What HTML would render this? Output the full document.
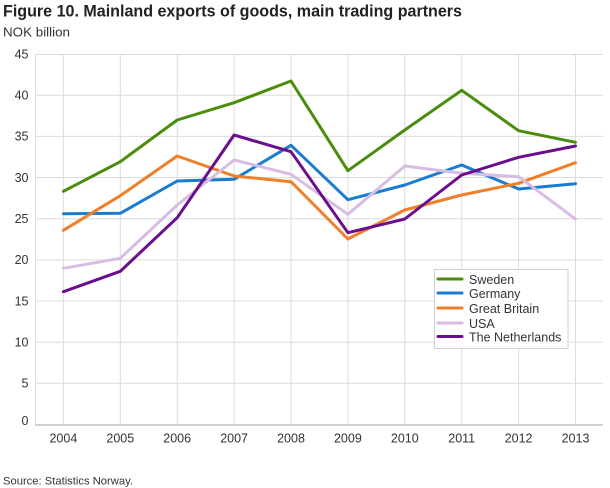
<!DOCTYPE html>
<html><head><meta charset="utf-8"><style>
html,body{margin:0;padding:0;background:#fff;}
svg{display:block;font-family:"Liberation Sans",sans-serif;}
</style></head><body>
<svg width="610" height="488" viewBox="0 0 610 488" xmlns="http://www.w3.org/2000/svg">
<rect width="610" height="488" fill="#fff"/>
<text x="3" y="16.5" font-size="16.5" font-weight="bold" fill="#222" textLength="459" lengthAdjust="spacingAndGlyphs">Figure 10. Mainland exports of goods, main trading partners</text>
<text x="3" y="36.5" font-size="13" fill="#333" textLength="67" lengthAdjust="spacingAndGlyphs">NOK billion</text>
<g stroke="#dcdcdc" stroke-width="1" fill="none">
<line x1="35" y1="54.5" x2="603" y2="54.5"/>
<line x1="35" y1="95.2" x2="603" y2="95.2"/>
<line x1="35" y1="136.4" x2="603" y2="136.4"/>
<line x1="35" y1="177.5" x2="603" y2="177.5"/>
<line x1="35" y1="218.7" x2="603" y2="218.7"/>
<line x1="35" y1="259.9" x2="603" y2="259.9"/>
<line x1="35" y1="301.0" x2="603" y2="301.0"/>
<line x1="35" y1="342.2" x2="603" y2="342.2"/>
<line x1="35" y1="383.3" x2="603" y2="383.3"/>
<line x1="35.5" y1="54" x2="35.5" y2="425"/>
<line x1="63.4" y1="54" x2="63.4" y2="425"/>
<line x1="120.3" y1="54" x2="120.3" y2="425"/>
<line x1="177.2" y1="54" x2="177.2" y2="425"/>
<line x1="234.1" y1="54" x2="234.1" y2="425"/>
<line x1="291.0" y1="54" x2="291.0" y2="425"/>
<line x1="347.9" y1="54" x2="347.9" y2="425"/>
<line x1="404.8" y1="54" x2="404.8" y2="425"/>
<line x1="461.7" y1="54" x2="461.7" y2="425"/>
<line x1="518.6" y1="54" x2="518.6" y2="425"/>
<line x1="575.5" y1="54" x2="575.5" y2="425"/>
</g>
<line x1="35" y1="425" x2="603" y2="425" stroke="#d0d0d0" stroke-width="2"/>
<g font-size="12.5" fill="#333" text-anchor="end">
<text x="28.5" y="58.5">45</text>
<text x="28.5" y="99.5">40</text>
<text x="28.5" y="140.7">35</text>
<text x="28.5" y="181.8">30</text>
<text x="28.5" y="223">25</text>
<text x="28.5" y="264.2">20</text>
<text x="28.5" y="305.3">15</text>
<text x="28.5" y="346.5">10</text>
<text x="28.5" y="387.6">5</text>
<text x="28.5" y="425">0</text>
</g>
<g font-size="12.5" fill="#333" text-anchor="middle">
<text x="63.4" y="442.5">2004</text>
<text x="120.3" y="442.5">2005</text>
<text x="177.2" y="442.5">2006</text>
<text x="234.1" y="442.5">2007</text>
<text x="291.0" y="442.5">2008</text>
<text x="347.9" y="442.5">2009</text>
<text x="404.8" y="442.5">2010</text>
<text x="461.7" y="442.5">2011</text>
<text x="518.6" y="442.5">2012</text>
<text x="575.5" y="442.5">2013</text>
</g>
<g fill="none" stroke-width="3" stroke-linejoin="round" stroke-linecap="round">
<polyline stroke="#4a8c0c" points="63.4,191.3 120.3,161.7 177.2,120 234.1,102.7 291.0,81 347.9,170.7 404.8,130 461.7,90.3 518.6,130.7 575.5,142.3"/>
<polyline stroke="#1a7cd0" points="63.4,213.7 120.3,213.3 177.2,181 234.1,179.3 291.0,145.3 347.9,199.7 404.8,185 461.7,165 518.6,189 575.5,183.7"/>
<polyline stroke="#f07f2a" points="63.4,230.3 120.3,195.7 177.2,156 234.1,176 291.0,181.7 347.9,239 404.8,210 461.7,195 518.6,183.3 575.5,162.7"/>
<polyline stroke="#d8bde2" points="63.4,268.3 120.3,258.3 177.2,205 234.1,160 291.0,174.3 347.9,214.3 404.8,166 461.7,173.3 518.6,176.7 575.5,219"/>
<polyline stroke="#6b0e8c" points="63.4,291.7 120.3,271.3 177.2,217.7 234.1,135 291.0,151.7 347.9,232.7 404.8,219 461.7,175 518.6,157.3 575.5,146"/>
</g>
<rect x="434.5" y="269.5" width="133.5" height="79" fill="#fff" stroke="#d0d0d0" stroke-width="1"/>
<g stroke-width="3" stroke-linecap="round">
<line x1="438" y1="279" x2="462" y2="279" stroke="#4a8c0c"/>
<line x1="438" y1="293" x2="462" y2="293" stroke="#1a7cd0"/>
<line x1="438" y1="308" x2="462" y2="308" stroke="#f07f2a"/>
<line x1="438" y1="323" x2="462" y2="323" stroke="#d8bde2"/>
<line x1="438" y1="336.5" x2="462" y2="336.5" stroke="#6b0e8c"/>
</g>
<g font-size="12.5" fill="#333">
<text x="469" y="284">Sweden</text>
<text x="469" y="298">Germany</text>
<text x="469" y="313">Great Britain</text>
<text x="469" y="328">USA</text>
<text x="469" y="341.5">The Netherlands</text>
</g>
<text x="3" y="484.5" font-size="11" fill="#333" textLength="130" lengthAdjust="spacingAndGlyphs">Source: Statistics Norway.</text>
</svg>
</body></html>
